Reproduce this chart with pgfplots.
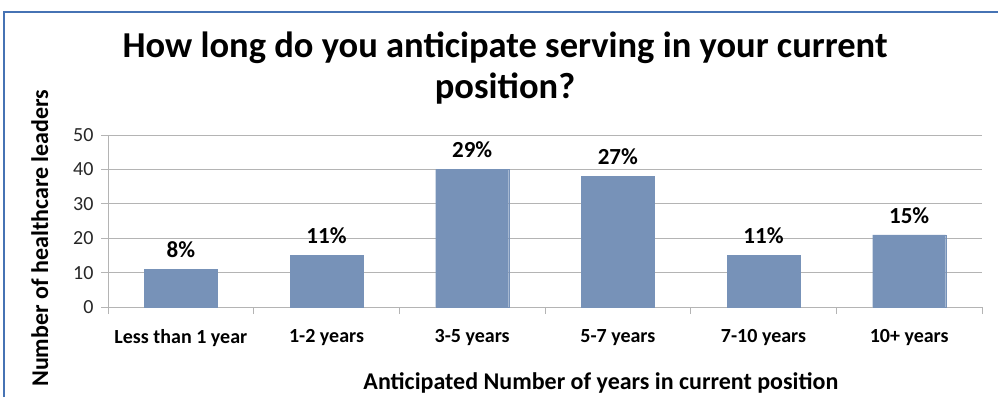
\documentclass[border=0pt]{standalone}
\usepackage{pgfplots}
\pgfplotsset{compat=1.18}
\usepackage{fontspec}
\setmainfont{Carlito}
\definecolor{barblue}{RGB}{119,146,184}
\definecolor{framecol}{RGB}{70,115,180}
\definecolor{gridgray}{RGB}{180,180,180}
\begin{document}
\begin{tikzpicture}[x=1pt,y=1pt]
\path[use as bounding box] (0,0) rectangle (998,397);
\draw[framecol,line width=1.5pt] (4,0) -- (4,385) -- (998,385);
\node[font=\fontsize{36.5}{41}\selectfont\bfseries,align=center] at (505,329) {How long do you anticipate serving in your current\\position?};
\begin{axis}[
  at={(108pt,90pt)}, anchor=south west,
  scale only axis, width=874pt, height=172pt,
  xmin=-0.5, xmax=5.5, ymin=0, ymax=50,
  axis x line=bottom, axis y line=left,
  axis line style={-, draw=gridgray, line width=1pt},
  ytick={0,10,...,50},
  ymajorgrids, grid style={gridgray, line width=1pt},
  xtick={0,...,5},
  xticklabels={Less than 1 year,1-2 years,3-5 years,5-7 years,7-10 years,10+ years},
  major x tick style={draw=none},
  minor xtick={-0.5,0.5,...,5.5},
  minor x tick style={draw=gridgray, line width=1pt},
  minor tick length=7pt,
  major tick length=7pt,
  tick align=outside,
  y tick style={draw=gridgray, line width=1pt},
  x tick label style={font=\fontsize{20}{24}\selectfont\bfseries, yshift=-12pt},
  y tick label style={font=\fontsize{20}{24}\selectfont, text=black!85, xshift=-4pt},
  /pgf/number format/assume math mode=true,
  xlabel={Anticipated Number of years in current position},
  ylabel={Number of healthcare leaders},
  xlabel style={font=\fontsize{24}{28}\selectfont\bfseries, at={(axis description cs:0.564,-0.442)}, anchor=center},
  ylabel style={font=\fontsize{24}{28}\selectfont\bfseries, at={(axis description cs:-0.078,0.40)}, anchor=center},
  ybar, bar width=73pt,
  point meta=explicit symbolic,
  nodes near coords,
  nodes near coords style={font=\fontsize{23}{26}\selectfont\bfseries, yshift=8pt},
  clip=false,
]
\addplot[fill=barblue, draw=barblue, line width=0.3pt] coordinates {
  (0,11) [8\%]
  (1,15) [11\%]
  (2,40) [29\%]
  (3,38) [27\%]
  (4,15) [11\%]
  (5,21) [15\%]
};
\end{axis}
\end{tikzpicture}
\end{document}
